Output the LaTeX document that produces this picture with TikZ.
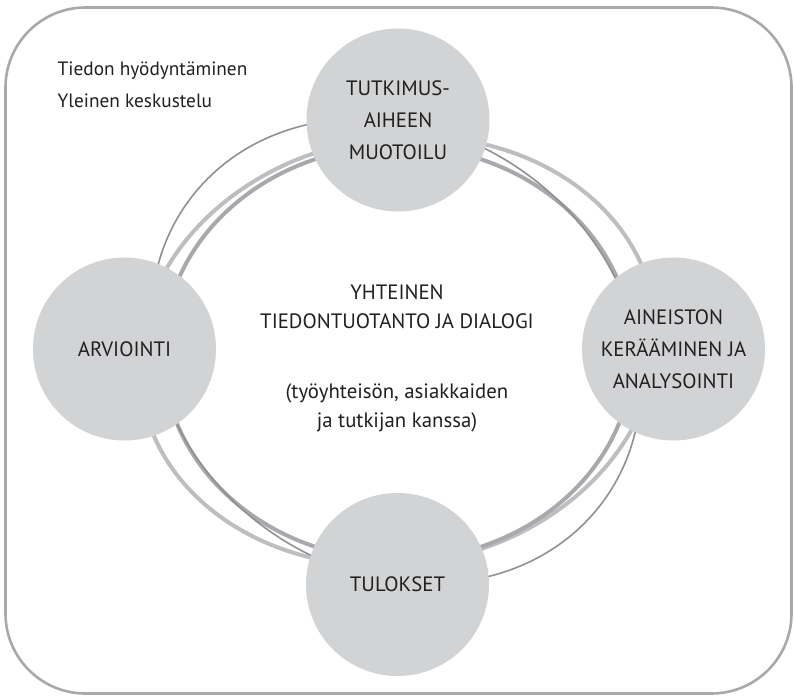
\documentclass[tikz,border=0pt]{standalone}
\usepackage{fontspec}
\setmainfont{PT Sans}
\definecolor{discfill}{HTML}{D1D3D4}
\definecolor{ringthin}{HTML}{8E9093}
\definecolor{ringlight}{HTML}{BCBEC0}
\definecolor{ringmid}{HTML}{A7A9AC}
\definecolor{frameline}{HTML}{A7A9AC}
\definecolor{ink}{HTML}{231F20}
\tikzset{
  stage/.style={circle, fill=discfill, draw=none, minimum size=183pt, inner sep=0pt,
    align=center, text=ink, font=\fontsize{20.8}{32}\selectfont},
  plain/.style={text=ink, inner sep=0pt, font=\fontsize{20.8}{29}\selectfont},
  thinring/.style={draw=ringthin, line width=1.6pt},
  lightring/.style={draw=ringlight, line width=4pt},
  midring/.style={draw=ringmid, line width=4pt},
}
\begin{document}
\begin{tikzpicture}[x=1pt, y=-1pt]
  \useasboundingbox (0,0) rectangle (794,696);
  % outer frame
  \draw[frameline, line width=2.6pt, rounded corners=80pt] (5.5,7.5) rectangle (791.5,693.5);

  % the three interlaced rings of the cycle
  \draw[lightring] (398,351) ellipse [x radius=260, y radius=213, rotate=10];
  \draw[midring] (398,353) ellipse [x radius=235, y radius=207];
  \draw[thinring] (396,351) ellipse [x radius=256, y radius=220, rotate=145];

  % stages of the cycle
  \node[stage] (topic) at (398,120) {TUTKIMUS-\\AIHEEN\\MUOTOILU};
  \node[stage] (data) at (673.5,349) {AINEISTON\\KERÄÄMINEN JA\\ANALYSOINTI};
  \node[stage] (results) at (397.5,584.5) {TULOKSET};
  \node[stage] (review) at (124.5,349) {ARVIOINTI};

  % centre text
  \node[plain, align=center] (shared) at (397,358.5)
    {YHTEINEN\\TIEDONTUOTANTO JA DIALOGI\\[41pt](työyhteisön, asiakkaiden\\ja tutkijan kanssa)};

  % corner note
  \node[plain, align=left, anchor=north west, font=\fontsize{19.3}{32}\selectfont] (use) at (57.5,62)
    {Tiedon hyödyntäminen\\Yleinen keskustelu};
\end{tikzpicture}
\end{document}
